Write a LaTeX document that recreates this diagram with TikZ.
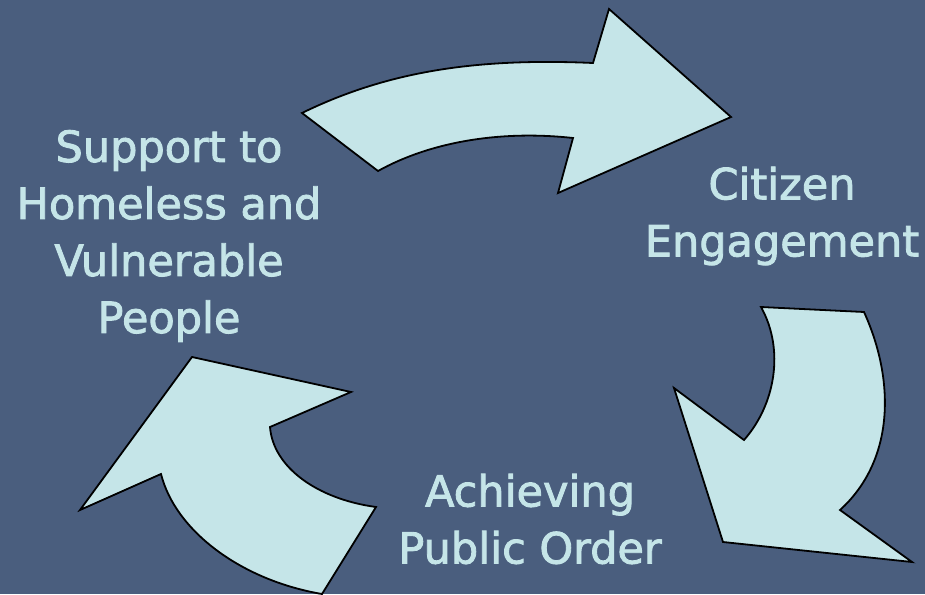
\documentclass[tikz,border=0pt]{standalone}
\usepackage{fontspec}
\setmainfont{DejaVu Sans}
\newfontfamily\labelfont[FakeBold=2]{DejaVu Sans}
\definecolor{bgblue}{RGB}{74,94,126}
\definecolor{paleblue}{RGB}{197,229,232}
\tikzset{
  arrowshape/.style={fill=paleblue, draw=black, line width=1.8pt, line join=miter},
  label/.style={text=paleblue, align=center, inner sep=0pt, font=\labelfont\fontsize{43}{57}\selectfont}
}
\begin{document}
\begin{tikzpicture}[x=1pt,y=-1pt]
\fill[bgblue] (0,0) rectangle (925,594);
\useasboundingbox (0,0) rectangle (925,594);
% top arrow
\draw[arrowshape] (302,113) .. controls (390,70) and (480,58) .. (593,63)
  -- (609,9) -- (731,117) -- (558,193) -- (573,138)
  .. controls (500,130) and (430,142) .. (378,171) -- cycle;
% right arrow
\draw[arrowshape] (761,307) -- (864,312)
  .. controls (895,380) and (895,460) .. (840,510)
  -- (912,562) -- (723,542) -- (674,388) -- (744,440)
  .. controls (775,405) and (785,350) .. (761,307) -- cycle;
% bottom-left arrow
\draw[arrowshape] (192,357) -- (351,392) -- (270,427)
  .. controls (273,467) and (317,499) .. (376,507)
  -- (322,594)
  .. controls (240,580) and (175,530) .. (161,474)
  -- (80,510) -- cycle;
\node[label] (support) at (169,236) {Support to\\Homeless and\\Vulnerable\\People};
\node[label] (citizen) at (782,216) {Citizen\\Engagement};
\node[label] (order) at (530,519) {Achieving\\Public Order};
\end{tikzpicture}
\end{document}
